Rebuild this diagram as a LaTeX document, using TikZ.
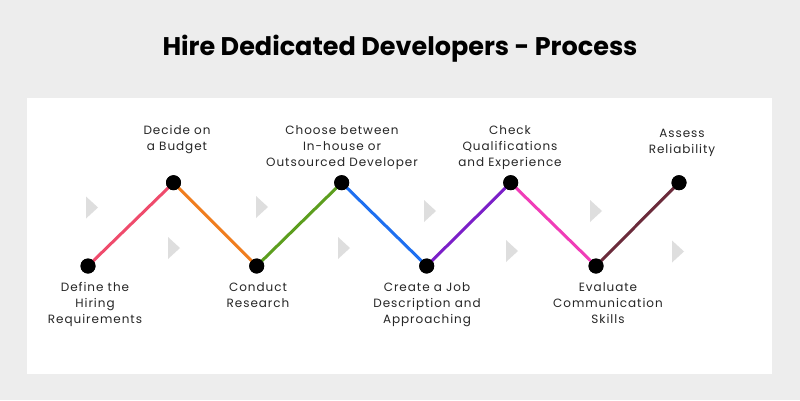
\documentclass[tikz,border=0pt]{standalone}
\usepackage{fontspec}
\setmainfont{Poppins}
\begin{document}
\begin{tikzpicture}[x=1pt,y=-1pt,
  lbl/.style={font=\fontsize{12}{16}\selectfont\addfontfeature{LetterSpace=8}, align=center, inner sep=0pt, text=black!85},
  dot/.style={circle, fill=black, minimum size=15pt, inner sep=0pt},
  seg/.style={line width=3pt},
  tri/.style={fill=black!13}]
\definecolor{bgc}{HTML}{EDEDED}
\definecolor{cA}{HTML}{EF4B6C}
\definecolor{cB}{HTML}{F07D1E}
\definecolor{cC}{HTML}{5C9E1E}
\definecolor{cD}{HTML}{1E6FF0}
\definecolor{cE}{HTML}{7B1FC8}
\definecolor{cF}{HTML}{F03DB8}
\definecolor{cG}{HTML}{6B2B3B}
\useasboundingbox (0,0) rectangle (800,400);
\fill[bgc] (0,0) rectangle (800,400);
\fill[white] (27,98) rectangle (772,374);
\node[font=\fontsize{25.5}{30}\selectfont\bfseries, inner sep=0pt] (title) at (400,49) {Hire Dedicated Developers - Process};
% triangles
\foreach \x/\y in {92/207.5, 262/207, 430/211, 596/211, 174/248, 344/248, 512/251, 678/251.5}{
  \fill[tri] (\x-6,\y-11) -- (\x+6,\y) -- (\x-6,\y+11) -- cycle;
}
% dots
\node[dot] (p1) at (88,266) {};
\node[dot] (p2) at (173.5,182.7) {};
\node[dot] (p3) at (256.7,266) {};
\node[dot] (p4) at (341.7,182.7) {};
\node[dot] (p5) at (426.7,266) {};
\node[dot] (p6) at (510.7,182.7) {};
\node[dot] (p7) at (596,266) {};
\node[dot] (p8) at (679,182.7) {};
\draw[seg,cA] (p1.center) -- (p2.center);
\draw[seg,cB] (p2.center) -- (p3.center);
\draw[seg,cC] (p3.center) -- (p4.center);
\draw[seg,cD] (p4.center) -- (p5.center);
\draw[seg,cE] (p5.center) -- (p6.center);
\draw[seg,cF] (p6.center) -- (p7.center);
\draw[seg,cG] (p7.center) -- (p8.center);
\foreach \n in {p1,p2,p3,p4,p5,p6,p7,p8}{ \fill[black] (\n) circle (7.5); }
% labels
\node[lbl, anchor=north] (l1) at (95,282) {Define the\\Hiring\\Requirements};
\node[lbl, anchor=north] (l2) at (177,125) {Decide on\\a Budget};
\node[lbl, anchor=north] (l3) at (258,282) {Conduct\\Research};
\node[lbl, anchor=north] (l4) at (342,125) {Choose between\\In-house or\\Outsourced Developer};
\node[lbl, anchor=north] (l5) at (427,282) {Create a Job\\Description and\\Approaching};
\node[lbl, anchor=north] (l6) at (510,125) {Check\\Qualifications\\and Experience};
\node[lbl, anchor=north] (l7) at (608,282) {Evaluate\\Communication\\Skills};
\node[lbl, anchor=north] (l8) at (682,128.5) {Assess\\Reliability};
\end{tikzpicture}
\end{document}
